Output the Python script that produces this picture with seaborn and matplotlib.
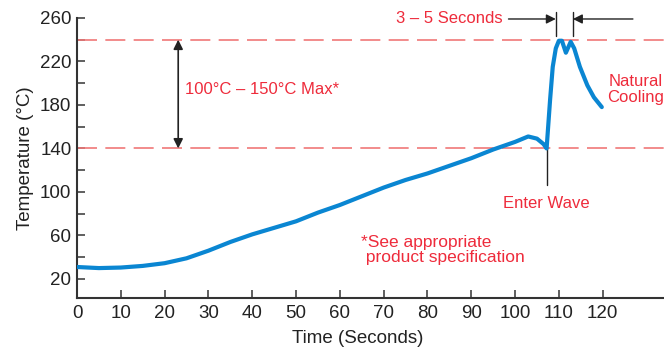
import matplotlib
matplotlib.use("Agg")
import matplotlib.pyplot as plt
import seaborn as sns
import pandas as pd

# reflow soldering profile
time_s = [0, 5, 10, 15, 20, 25, 30, 35, 40, 45, 50, 55, 60, 65, 70, 75, 80, 85,
          90, 95, 100, 103, 105, 106.5, 107.2, 108, 108.6, 109.3, 110, 110.7,
          111.6, 112.7, 113.5, 114.8, 116.5, 118, 119.8]
temp_c = [31, 30, 30.5, 32, 34.5, 39, 46, 54, 61, 67, 73, 81, 88, 96, 104, 111, 117, 124,
          131, 139, 146, 151, 149, 144, 140, 185, 215, 232, 239, 239,
          228, 238, 232, 215, 198, 187, 178]

limit_lines = [240, 140]
y_major = [20, 60, 100, 140, 180, 220, 260]
y_minor = [40, 80, 120, 160, 200, 240]
x_ticks = [0, 10, 20, 30, 40, 50, 60, 70, 80, 90, 100, 110, 120]

RED = "#ee2b3b"
BLUE = "#0a86d2"
DARK = "#222222"

sns.set_style("ticks")
plt.rcParams["font.family"] = ["Liberation Sans", "DejaVu Sans"]

fig = plt.figure(figsize=(6.64, 3.51), dpi=100)
ax = fig.add_axes([0.116, 0.151, 0.884, 0.798])

df = pd.DataFrame({"t": time_s, "T": temp_c})

for yv in limit_lines:
    ax.axhline(yv, color="#f07878", lw=1.2, dashes=(12, 5), zorder=1)

sns.lineplot(data=df, x="t", y="T", ax=ax, color=BLUE, lw=3, zorder=3,
             solid_capstyle="round", solid_joinstyle="round")

ax.set_xlim(0, 134)
ax.set_ylim(2.5, 260)
ax.set_xticks(x_ticks)
ax.set_yticks(y_major)
ax.set_yticks(y_minor, minor=True)
ax.tick_params(axis="both", which="both", direction="in", length=6, width=1.2,
               color="#444444", labelsize=13.5, labelcolor=DARK)
ax.tick_params(axis="x", pad=5)
ax.tick_params(axis="y", pad=4)
sns.despine(ax=ax)
for s in ["left", "bottom"]:
    ax.spines[s].set_linewidth(1.5)
    ax.spines[s].set_color("#333333")

ax.set_xlabel("Time (Seconds)", fontsize=13.5, color=DARK, labelpad=4)
ax.xaxis.set_label_coords(0.479, -0.115)
ax.set_ylabel("Temperature (°C)", fontsize=13.5, color=DARK, labelpad=4)

# 100-150 C double arrow
ax.annotate("", xy=(23.1, 240), xytext=(23.1, 140),
            arrowprops=dict(arrowstyle="<|-|>", color=DARK, lw=1.2, mutation_scale=14,
                            shrinkA=0, shrinkB=0))
ax.text(24.6, 194, "100°C – 150°C Max*", color=RED, fontsize=12, va="center", ha="left")

# enter wave
ax.plot([107.2, 107.2], [140, 106], color=DARK, lw=1)
ax.text(107.2, 89, "Enter Wave", color=RED, fontsize=12, ha="center", va="center")

# natural cooling
ax.text(127.5, 194, "Natural\nCooling", color=RED, fontsize=12, ha="center",
        va="center", linespacing=1.1)

# footnote
ax.text(64.9, 46.5, "*See appropriate\n product specification", color=RED, fontsize=12.5,
        ha="left", va="center", linespacing=1.05)

# 3-5 seconds bracket
for xv in [109.3, 113.2]:
    ax.plot([xv, xv], [243, 265], color=DARK, lw=1, clip_on=False)
ax.annotate("", xy=(109.3, 259), xytext=(98.5, 259), annotation_clip=False,
            arrowprops=dict(arrowstyle="-|>", color=DARK, lw=1, mutation_scale=14,
                            shrinkA=0, shrinkB=0))
ax.annotate("", xy=(113.2, 259), xytext=(126.9, 259), annotation_clip=False,
            arrowprops=dict(arrowstyle="-|>", color=DARK, lw=1, mutation_scale=14,
                            shrinkA=0, shrinkB=0))
ax.text(97.2, 259, "3 – 5 Seconds", color=RED, fontsize=12, ha="right", va="center")

fig.savefig("out.png", dpi=100)
